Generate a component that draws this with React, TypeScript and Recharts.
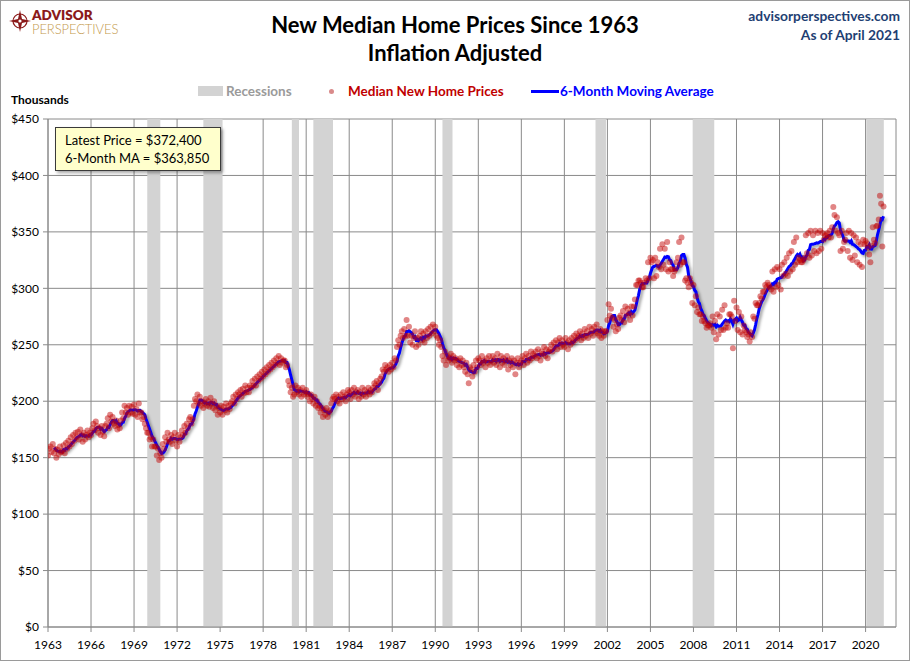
import React from "react";
import {
  ComposedChart,
  Line,
  Scatter,
  XAxis,
  YAxis,
  CartesianGrid,
  ReferenceArea,
} from "recharts";

// Median new home price, inflation adjusted, $ thousands, one value per month from Jan 1963
const prices1960s = [
  152, 158, 160, 155, 162, 154, 158, 150, 157, 153, 160, 155, // 1963
  156, 161, 154, 163, 158, 165, 160, 168, 162, 170, 165, 172, // 1964
  168, 173, 166, 175, 170, 164, 172, 166, 170, 174, 168, 172, // 1965
  170, 176, 180, 174, 182, 178, 172, 176, 170, 178, 173, 169, // 1966
  178, 180, 185, 176, 188, 182, 186, 180, 178, 183, 175, 179, // 1967
  176, 183, 190, 185, 196, 190, 194, 188, 196, 190, 195, 189, // 1968
  197, 188, 193, 186, 198, 190, 190, 184, 186, 180, 176, 172, // 1969
];

const prices1970s = [
  172, 166, 168, 160, 166, 160, 160, 152, 158, 148, 154, 150, // 1970
  162, 158, 168, 164, 172, 166, 164, 170, 162, 168, 172, 165, // 1971
  160, 170, 164, 168, 174, 170, 178, 172, 180, 176, 184, 186, // 1972
  180, 184, 196, 202, 200, 206, 198, 204, 196, 200, 194, 198, // 1973
  202, 196, 200, 195, 203, 198, 194, 200, 192, 196, 188, 194, // 1974
  190, 196, 188, 195, 192, 198, 190, 196, 193, 198, 200, 204, // 1975
  198, 206, 202, 208, 206, 210, 204, 211, 207, 214, 208, 212, // 1976
  208, 214, 212, 218, 214, 220, 214, 222, 218, 224, 220, 226, // 1977
  222, 228, 224, 230, 226, 232, 228, 234, 230, 236, 232, 238, // 1978
  234, 240, 232, 238, 234, 236, 236, 230, 232, 218, 214, 208, // 1979
];

const prices1980s = [
  212, 204, 206, 214, 208, 212, 206, 210, 204, 212, 206, 208, // 1980
  210, 204, 206, 200, 206, 202, 198, 204, 196, 200, 194, 196, // 1981
  190, 194, 186, 192, 188, 194, 186, 190, 192, 198, 202, 204, // 1982
  202, 206, 200, 204, 198, 206, 202, 208, 204, 200, 206, 210, // 1983
  208, 202, 210, 206, 212, 204, 208, 210, 202, 208, 204, 212, // 1984
  206, 210, 204, 208, 212, 206, 210, 208, 212, 216, 214, 218, // 1985
  210, 216, 220, 222, 228, 226, 232, 228, 230, 226, 232, 228, // 1986
  234, 230, 238, 236, 248, 254, 250, 258, 262, 256, 264, 258, // 1987
  272, 258, 266, 252, 258, 250, 256, 262, 248, 256, 250, 258, // 1988
  262, 254, 260, 252, 262, 256, 264, 258, 266, 260, 268, 262, // 1989
];

const prices1990s = [
  266, 258, 256, 250, 254, 248, 240, 236, 244, 232, 240, 236, // 1990
  238, 242, 234, 240, 236, 238, 232, 236, 230, 238, 232, 236, // 1991
  230, 226, 234, 224, 216, 230, 228, 222, 232, 226, 236, 230, // 1992
  238, 236, 232, 240, 234, 236, 230, 238, 234, 240, 232, 236, // 1993
  240, 234, 238, 232, 242, 236, 230, 240, 234, 238, 232, 236, // 1994
  240, 228, 236, 232, 238, 230, 236, 224, 234, 238, 230, 234, // 1995
  236, 240, 232, 238, 242, 234, 240, 236, 244, 238, 242, 240, // 1996
  244, 238, 246, 240, 236, 244, 242, 248, 240, 246, 238, 244, // 1997
  246, 250, 244, 252, 248, 254, 246, 252, 256, 248, 254, 250, // 1998
  248, 256, 252, 246, 254, 250, 256, 252, 258, 254, 260, 256, // 1999
];

const prices2000s = [
  258, 262, 254, 260, 256, 264, 258, 262, 256, 266, 260, 264, // 2000
  258, 266, 262, 268, 260, 258, 264, 256, 262, 258, 262, 262, // 2001
  272, 286, 276, 282, 274, 266, 272, 262, 268, 264, 274, 276, // 2002
  272, 280, 270, 284, 276, 282, 278, 272, 284, 276, 284, 290, // 2003
  303, 303, 307, 307, 305, 301, 301, 305, 309, 307, 323, 309, // 2004
  327, 323, 325, 309, 327, 311, 323, 319, 335, 317, 339, 321, // 2005
  335, 317, 341, 315, 323, 317, 317, 311, 315, 317, 323, 327, // 2006
  341, 321, 345, 323, 323, 307, 309, 305, 301, 309, 305, 287, // 2007
  303, 285, 293, 279, 283, 277, 277, 271, 275, 271, 269, 265, // 2008
  267, 267, 269, 265, 275, 261, 271, 255, 277, 259, 275, 263, // 2009
];

const prices2010s = [
  281, 263, 285, 265, 269, 265, 277, 277, 275, 247, 289, 271, // 2010
  283, 263, 279, 261, 275, 259, 267, 263, 261, 257, 259, 253, // 2011
  261, 257, 275, 273, 287, 285, 285, 287, 293, 291, 297, 297, // 2012
  303, 301, 305, 303, 301, 299, 315, 297, 317, 301, 319, 303, // 2013
  317, 299, 321, 311, 323, 313, 327, 311, 331, 315, 333, 317, // 2014
  341, 321, 345, 323, 327, 325, 323, 323, 325, 327, 347, 331, // 2015
  349, 327, 351, 329, 347, 333, 351, 331, 349, 333, 351, 335, // 2016
  349, 343, 347, 347, 349, 345, 351, 345, 354, 372, 365, 351, // 2017
  363, 349, 347, 333, 351, 335, 341, 343, 349, 333, 351, 327, // 2018
  349, 325, 347, 329, 345, 323, 341, 321, 339, 319, 343, 339, // 2019
];

const prices2020s = [
  342, 340, 336, 330, 323, 338, 354, 343, 340, 355, 355.7, 361, // 2020
  382, 375, 337, 372.4, // 2021 (through April)
];

const START_YEAR = 1963;

// recession spans in decimal years
const recessions: [number, number][] = [
  [1969.92, 1970.83],
  [1973.83, 1975.17],
  [1980.0, 1980.5],
  [1981.5, 1982.87],
  [1990.5, 1991.2],
  [2001.17, 2001.9],
  [2007.95, 2009.45],
  [2020.05, 2021.27],
];

const yearTicks = [
  1963, 1966, 1969, 1972, 1975, 1978, 1981, 1984, 1987, 1990,
  1993, 1996, 1999, 2002, 2005, 2008, 2011, 2014, 2017, 2020,
];
const priceTicks = [0, 50, 100, 150, 200, 250, 300, 350, 400, 450];

const allPrices = [
  ...prices1960s,
  ...prices1970s,
  ...prices1980s,
  ...prices1990s,
  ...prices2000s,
  ...prices2010s,
  ...prices2020s,
];

// 6-month trailing moving average, as in the original chart
const data = allPrices.map((price, i) => {
  let ma: number | null = null;
  if (i >= 5) {
    const win = allPrices.slice(i - 5, i + 1);
    ma = win.reduce((s, v) => s + v, 0) / 6;
  }
  return { x: START_YEAR + i / 12, price, ma };
});

const FONT = "Lato, 'Noto Sans', sans-serif";
const GRID = "#8a8a8a";

const Dot = (props: any) => {
  const { cx, cy } = props;
  if (cx == null || cy == null) return null;
  return <circle cx={cx} cy={cy} r={3} fill="#C00000" fillOpacity={0.48} />;
};

const Logo = () => (
  <div style={{ position: "absolute", left: 9, top: 8, height: 28 }}>
    <svg width={22} height={24} style={{ position: "absolute", left: 0, top: 1 }}>
      <circle cx={11} cy={12} r={7} fill="none" stroke="#8B1A1A" strokeWidth={1.2} />
      <polygon
        points="11,1 13,10 22,12 13,14 11,23 9,14 0,12 9,10"
        fill="#8B1A1A"
      />
      <circle cx={11} cy={12} r={1.6} fill="#fff" />
    </svg>
    <div
      style={{
        position: "absolute",
        left: 23,
        top: 0,
        fontFamily: FONT,
        fontWeight: 800,
        fontSize: 13.5,
        lineHeight: "14px",
        color: "#8B1A1A",
        whiteSpace: "nowrap",
      }}
    >
      ADVISOR
    </div>
    <div
      style={{
        position: "absolute",
        left: 23,
        top: 14,
        fontFamily: FONT,
        fontWeight: 300,
        fontSize: 13,
        lineHeight: "14px",
        color: "#C49A4C",
        whiteSpace: "nowrap",
        letterSpacing: -0.1,
      }}
    >
      PERSPECTIVES
    </div>
  </div>
);

const Legend = () => (
  <div
    style={{
      position: "absolute",
      top: 83,
      left: 0,
      height: 16,
      fontFamily: FONT,
      fontWeight: 700,
      fontSize: 13.5,
      lineHeight: "16px",
      whiteSpace: "nowrap",
    }}
  >
    <div style={{ position: "absolute", left: 198, top: 3, width: 25, height: 10, background: "#D3D3D3" }} />
    <div style={{ position: "absolute", left: 226, top: 0, color: "#9A9A9A" }}>Recessions</div>
    <div
      style={{
        position: "absolute",
        left: 329,
        top: 6,
        width: 5,
        height: 5,
        borderRadius: 3,
        background: "#D98A8A",
      }}
    />
    <div style={{ position: "absolute", left: 348, top: 0, color: "#C00000" }}>Median New Home Prices</div>
    <div style={{ position: "absolute", left: 531, top: 6.5, width: 28, height: 3, background: "#0000FF" }} />
    <div style={{ position: "absolute", left: 560, top: 0, color: "#0000FF" }}>6-Month Moving Average</div>
  </div>
);

const App = () => {
  return (
    <div
      style={{
        position: "absolute",
        left: 0,
        top: 0,
        width: 910,
        height: 661,
        background: "#fff",
        overflow: "hidden",
        fontFamily: FONT,
      }}
    >
      <style>{`.ma-line .recharts-curve { filter: drop-shadow(2px 2px 1.5px rgba(0,0,0,0.4)); }`}</style>

      <Logo />

      <div
        style={{
          position: "absolute",
          left: 0,
          width: 910,
          top: 11,
          textAlign: "center",
          fontFamily: FONT,
          fontWeight: 700,
          fontSize: 22,
          lineHeight: "28px",
          color: "#000",
        }}
      >
        <div>New Median Home Prices Since 1963</div>
        <div>Inflation Adjusted</div>
      </div>

      <div
        style={{
          position: "absolute",
          right: 10,
          top: 6,
          textAlign: "right",
          fontFamily: FONT,
          fontWeight: 700,
          fontSize: 13.8,
          lineHeight: "19px",
          color: "#1F3F73",
        }}
      >
        <div>advisorperspectives.com</div>
        <div>As of April 2021</div>
      </div>

      <Legend />

      <div
        style={{
          position: "absolute",
          left: 11,
          top: 92,
          fontFamily: FONT,
          fontWeight: 700,
          fontSize: 12,
          lineHeight: "16px",
          color: "#000",
        }}
      >
        Thousands
      </div>

      <div style={{ position: "absolute", left: 0, top: 0 }}>
        <ComposedChart
          width={910}
          height={661}
          data={data}
          margin={{ top: 119, right: 14, bottom: 0, left: 0 }}
        >
          {recessions.map(([a, b]) => (
            <ReferenceArea
              key={a}
              x1={a}
              x2={b}
              y1={0}
              y2={450}
              fill="#D3D3D3"
              fillOpacity={1}
              stroke="none"
              ifOverflow="hidden"
            />
          ))}
          <CartesianGrid stroke={GRID} strokeWidth={1} />
          <XAxis
            type="number"
            dataKey="x"
            domain={[1963, 2022.12]}
            ticks={yearTicks}
            interval={0}
            allowDataOverflow
            height={34}
            tickSize={5}
            tickMargin={8}
            stroke={GRID}
            tick={{ fill: "#000", fontSize: 12, fontFamily: FONT }}
            tickFormatter={(v: number) => String(Math.round(v))}
          />
          <YAxis
            type="number"
            domain={[0, 450]}
            ticks={priceTicks}
            interval={0}
            width={48}
            tickSize={5}
            tickMargin={4}
            stroke={GRID}
            tick={{ fill: "#000", fontSize: 12, fontFamily: FONT }}
            tickFormatter={(v: number) => `$${v}`}
          />
          <Scatter
            dataKey="price"
            shape={<Dot />}
            isAnimationActive={false}
          />
          <Line
            className="ma-line"
            type="linear"
            dataKey="ma"
            stroke="#0000FF"
            strokeWidth={3}
            dot={false}
            activeDot={false}
            isAnimationActive={false}
          />
        </ComposedChart>
      </div>

      <div
        style={{
          position: "absolute",
          left: 55,
          top: 127,
          width: 166,
          height: 44,
          boxSizing: "border-box",
          background: "#FFFFCC",
          border: "1px solid #3a3a3a",
          boxShadow: "2px 2px 3px rgba(0,0,0,0.35)",
          padding: "4px 0 0 9px",
          fontFamily: FONT,
          fontSize: 13,
          lineHeight: "17.5px",
          color: "#000",
          whiteSpace: "nowrap",
        }}
      >
        <div>Latest Price = $372,400</div>
        <div>6-Month MA = $363,850</div>
      </div>

      <div
        style={{
          position: "absolute",
          left: 0,
          top: 0,
          width: 910,
          height: 661,
          boxSizing: "border-box",
          border: "1px solid #9a9a9a",
          pointerEvents: "none",
        }}
      />
    </div>
  );
};

export default App;
